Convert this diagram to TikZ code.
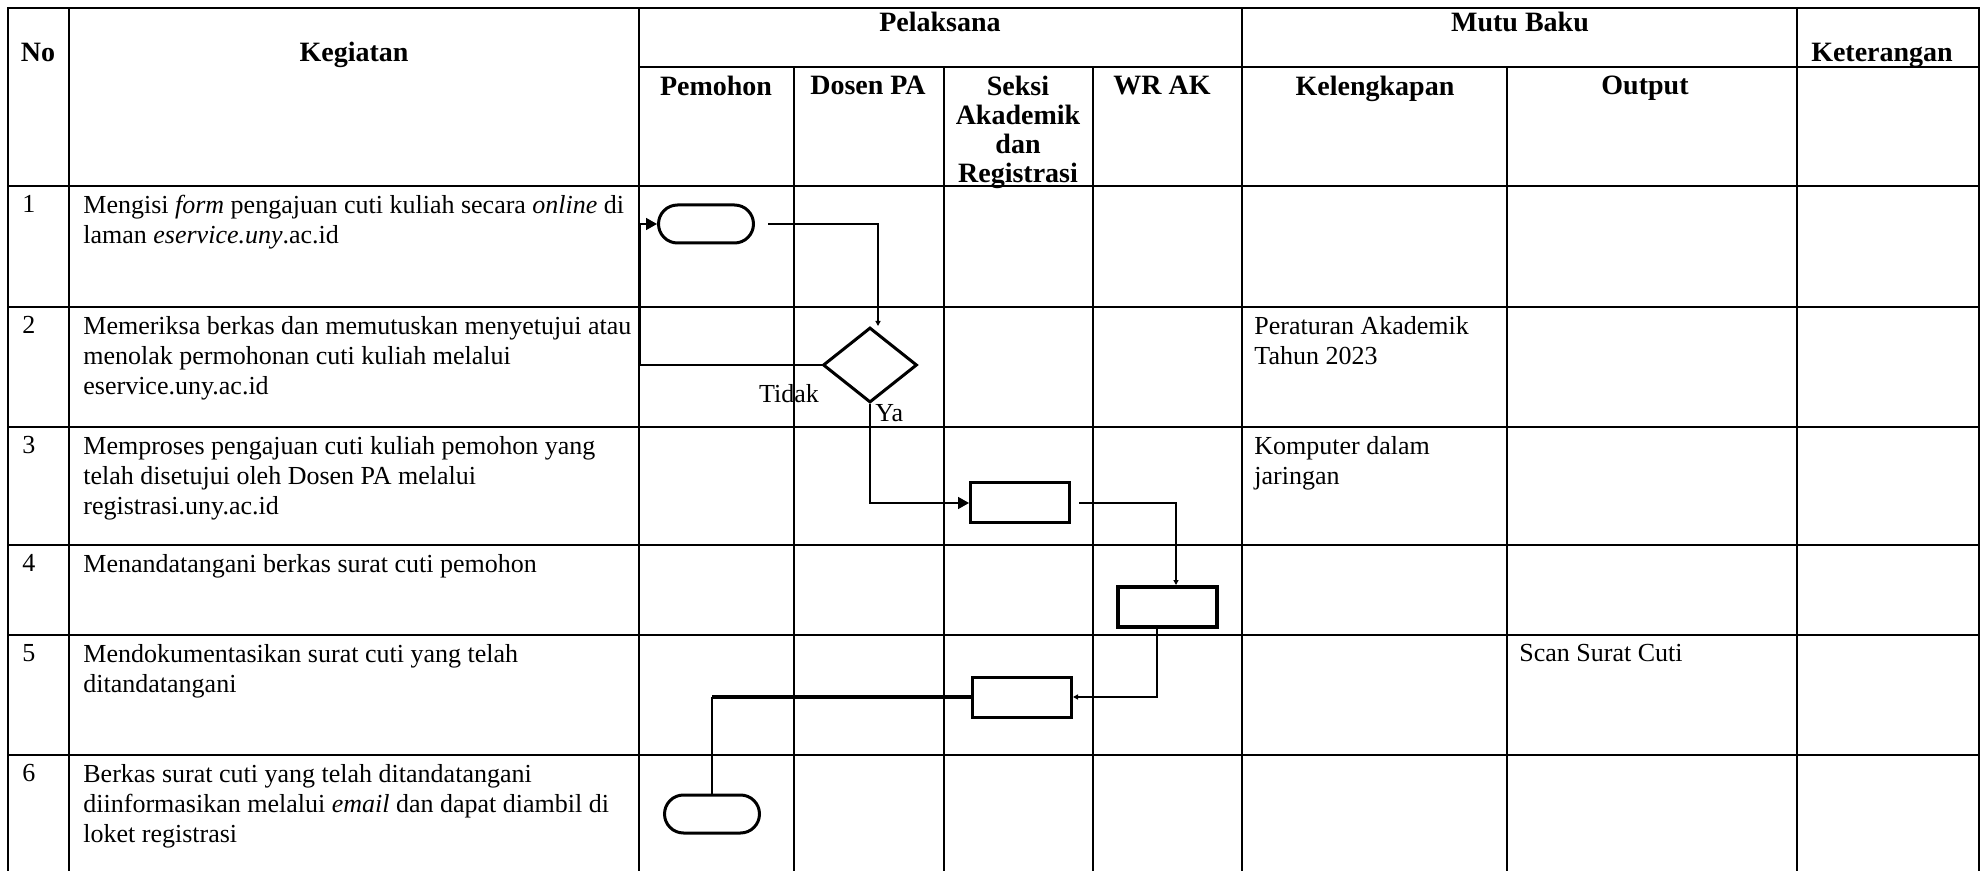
\documentclass[tikz,border=0pt]{standalone}
\usepackage{fontspec}
\setmainfont{Liberation Serif}
\usetikzlibrary{shapes.misc,shapes.geometric,arrows.meta,positioning}

\tikzset{
  rule/.style={line width=0.8pt},
  hd/.style={font=\bfseries\fontsize{14}{14.5}\selectfont, align=center, inner sep=0pt},
  cell/.style={font=\fontsize{13}{15}\selectfont, align=left, anchor=north west, inner sep=0pt},
  lbl/.style={font=\fontsize{13}{15}\selectfont, inner sep=0pt},
  term/.style={draw, rounded rectangle, line width=1.5pt, minimum width=47.5pt, minimum height=19pt, inner sep=0pt},
  proc/.style={draw, rectangle, line width=1.5pt, minimum width=49.5pt, minimum height=20pt, inner sep=0pt},
  decide/.style={draw, diamond, line width=1.5pt, minimum width=47pt, minimum height=37.5pt, inner sep=0pt},
  flow/.style={line width=0.8pt},
  bigtip/.style={-{Triangle[length=5.5pt,width=6pt]}},
  smalltip/.style={-{Triangle[length=2.5pt,width=2.5pt]}},
}

\begin{document}
\begin{tikzpicture}[x=0.5pt,y=-0.5pt]
    \useasboundingbox (0,0) rectangle (1982,871);
    % table
    \draw[rule] (8,871) -- (8,8) -- (1979,8) -- (1979,871);
    \foreach \x in {69,639,1242,1797} \draw[rule] (\x,8) -- (\x,871);
    \foreach \x in {794,944,1093,1507} \draw[rule] (\x,67) -- (\x,871);
    \draw[rule] (639,67) -- (1979,67);
    \foreach \y in {186,307,427,545,635,755} \draw[rule] (8,\y) -- (1979,\y);

    \node[hd, anchor=base] (hno) at (38,62) {No};
    \node[hd, anchor=base] (hkeg) at (354,62) {Kegiatan};
    \node[hd, anchor=base] (hpel) at (940,32) {Pelaksana};
    \node[hd, anchor=base] (hmutu) at (1520,32) {Mutu Baku};
    \node[hd, anchor=base] (hket) at (1882,62) {Keterangan};
    \node[hd, anchor=north] (hpem) at (716,76) {Pemohon};
    \node[hd, anchor=north] (hdos) at (868,76) {Dosen PA};
    \node[hd, anchor=north] (hsek) at (1018,76) {Seksi\\Akademik\\dan\\Registrasi};
    \node[hd, anchor=north] (hwr) at (1162,76) {WR AK};
    \node[hd, anchor=north] (hkel) at (1375,76) {Kelengkapan};
    \node[hd, anchor=north] (hout) at (1645,76) {Output};

    \node[cell] (no1) at (22,195) {1};
    \node[cell] (no2) at (22,316) {2};
    \node[cell] (no3) at (22,436) {3};
    \node[cell] (no4) at (22,554) {4};
    \node[cell] (no5) at (22,644) {5};
    \node[cell] (no6) at (22,764) {6};
    \node[cell] (keg1) at (83,195) {Mengisi \textit{form} pengajuan cuti kuliah secara \textit{online} di\\laman \textit{eservice.uny}.ac.id};
    \node[cell] (keg2) at (83,316) {Memeriksa berkas dan memutuskan menyetujui atau\\menolak permohonan cuti kuliah melalui\\eservice.uny.ac.id};
    \node[cell] (keg3) at (83,436) {Memproses pengajuan cuti kuliah pemohon yang\\telah disetujui oleh Dosen PA melalui\\registrasi.uny.ac.id};
    \node[cell] (keg4) at (83,554) {Menandatangani berkas surat cuti pemohon};
    \node[cell] (keg5) at (83,644) {Mendokumentasikan surat cuti yang telah\\ditandatangani};
    \node[cell] (keg6) at (83,764) {Berkas surat cuti yang telah ditandatangani\\diinformasikan melalui \textit{email} dan dapat diambil di\\loket registrasi};
    \node[cell] (kel2) at (1254,316) {Peraturan Akademik\\Tahun 2023};
    \node[cell] (kel3) at (1254,436) {Komputer dalam\\jaringan};
    \node[cell] (out5) at (1519,644) {Scan Surat Cuti};

    % flow
    \node[term] (mulai) at (706,224) {};
    \node[decide] (cek) at (870,365) {};
    \node[proc] (proses) at (1020,503) {};
    \node[proc, line width=2pt] (ttd) at (1167,607) {};
    \node[proc] (arsip) at (1022,697) {};
    \node[term] (selesai) at (712,814) {};
    \node[lbl, anchor=base] (tidak) at (789,403) {Tidak};
    \node[lbl, anchor=base west] (ya) at (875,422) {Ya};

    \draw[flow, smalltip] ([xshift=6.5pt]mulai.east) -| ([xshift=4pt]cek.north);
    \draw[flow, bigtip] (cek.west) -- ++(-181,0) |- (mulai.west);
    \draw[flow, bigtip] (cek.south) |- (proses.west);
    \draw[flow, smalltip] ([xshift=4pt]proses.east) -| ([xshift=4.5pt]ttd.north);
    \draw[flow, smalltip] ([xshift=-5pt]ttd.south) |- (arsip.east);
    \coordinate (belok) at (selesai.north |- arsip.west);
    \draw[line width=1.8pt] (arsip.west) -- (belok);
    \draw[flow] (belok) -- (selesai.north);
\end{tikzpicture}
\end{document}
